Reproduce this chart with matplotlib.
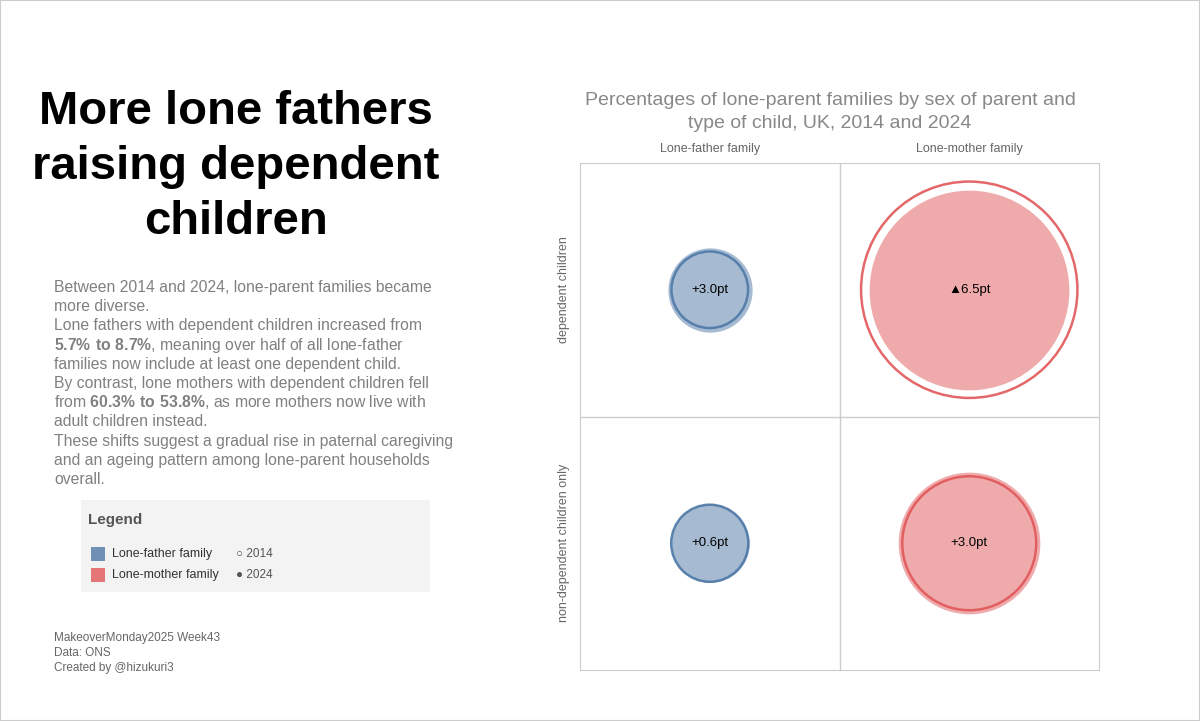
import matplotlib
matplotlib.use("Agg")
import matplotlib.pyplot as plt
from matplotlib.patches import Rectangle

plt.rcParams["font.family"] = ["Liberation Sans", "DejaVu Sans"]
plt.rcParams["mathtext.fontset"] = "custom"
plt.rcParams["mathtext.rm"] = "Liberation Sans"
plt.rcParams["mathtext.bf"] = "Liberation Sans:bold"

parents = ["Lone-father family", "Lone-mother family"]
child_types = ["dependent children", "non-dependent children only"]
pct_2014 = [[5.7, 60.3], [5.9, 28.1]]
pct_2024 = [[8.7, 53.8], [6.5, 31.1]]
change_labels = [["+3.0pt", "▲6.5pt"], ["+0.6pt", "+3.0pt"]]
colors = ["#4e79a7", "#e15759"]

W, H = 1200, 721
fig = plt.figure(figsize=(12, 7.21), dpi=100)
fig.patches.append(Rectangle((0, 0), 1, 1, transform=fig.transFigure, fill=False,
                             edgecolor="#cccccc", linewidth=1.5))

def fx(px): return px / W
def fy(py): return 1 - py / H

# title and body text
for i, line in enumerate(["More lone fathers", "raising dependent", "children"]):
    fig.text(fx(236), fy(112 + 55 * i), line, ha="center", va="center",
             fontsize=34, fontweight="bold", color="black")

body = [
    "Between 2014 and 2024, lone-parent families became",
    "more diverse.",
    "Lone fathers with dependent children increased from",
    r"$\bf{5.7\%\ to\ 8.7\%}$, meaning over half of all lone-father",
    "families now include at least one dependent child.",
    "By contrast, lone mothers with dependent children fell",
    r"from $\bf{60.3\%\ to\ 53.8\%}$, as more mothers now live with",
    "adult children instead.",
    "These shifts suggest a gradual rise in paternal caregiving",
    "and an ageing pattern among lone-parent households",
    "overall.",
]
for i, line in enumerate(body):
    fig.text(fx(54), fy(292 + 19.2 * i), line, ha="left", va="baseline",
             fontsize=11.3, color="#808080")

# legend box
fig.patches.append(Rectangle((fx(81), fy(592)), fx(430) - fx(81), fy(500) - fy(592),
                             transform=fig.transFigure, facecolor="#f3f3f3",
                             edgecolor="none"))
fig.text(fx(88), fy(520), "Legend", fontsize=11, fontweight="bold", color="#555555", va="center")
for i, (p, c) in enumerate(zip(parents, colors)):
    y = 554 + 21 * i
    fig.patches.append(Rectangle((fx(91), fy(y + 7)), fx(14), 14 / H,
                                 transform=fig.transFigure, facecolor=c, alpha=0.8))
    fig.text(fx(112), fy(y), p, fontsize=9, color="#333333", va="center")
fig.text(fx(236), fy(554), "○ 2014", fontsize=8.5, color="#555555", va="center")
fig.text(fx(236), fy(575), "● 2024", fontsize=8.5, color="#555555", va="center")

for i, line in enumerate(["MakeoverMonday2025 Week43", "Data: ONS", "Created by @hizukuri3"]):
    fig.text(fx(54), fy(638 + 15 * i), line, fontsize=8.5, color="#666666", va="center")

# chart
ax = fig.add_axes([fx(580), fy(670), fx(1099) - fx(580), fy(163) - fy(670)])
ax.set_xlim(0, 2)
ax.set_ylim(0, 2)
for s in ax.spines.values():
    s.set_color("#cccccc")
ax.axvline(1, color="#cccccc", lw=1)
ax.axhline(1, color="#cccccc", lw=1)
ax.set_xticks([])
ax.set_yticks([])

def radius_px(v):
    return 31 + 1.28 * v

for r, ct in enumerate(child_types):
    yc = 1.5 - r
    for c, p in enumerate(parents):
        xc = 0.5 + c
        s24 = (radius_px(pct_2024[r][c]) * 2 * 0.72) ** 2
        s14 = (radius_px(pct_2014[r][c]) * 2 * 0.72) ** 2
        ax.scatter([xc], [yc], s=s24, color=colors[c], alpha=0.5, linewidths=0, zorder=2)
        ax.scatter([xc], [yc], s=s14, facecolor="none", edgecolor=colors[c],
                   linewidths=1.8, alpha=0.9, zorder=3)
        ax.text(xc, yc, change_labels[r][c], ha="center", va="center", fontsize=9.5,
                color="black", zorder=4)
    ax.text(-0.04, yc, ct, rotation=90, ha="right", va="center", fontsize=9,
            color="#666666", transform=ax.transData)

for c, p in enumerate(parents):
    ax.text(0.5 + c, 2.03, p, ha="center", va="bottom", fontsize=9, color="#666666")

fig.text(fx(830), fy(112), "Percentages of lone-parent families by sex of parent and\n"
         "type of child, UK, 2014 and 2024", ha="center", va="center",
         fontsize=14, color="#888888", linespacing=1.4)

fig.savefig("out.png", dpi=100)
